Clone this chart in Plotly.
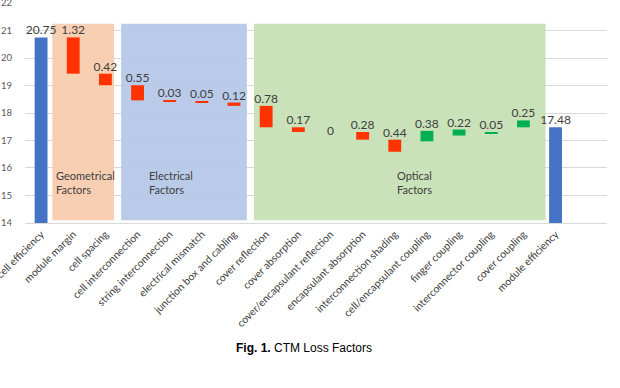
import plotly.graph_objects as go

# ---------------- data ----------------
categories = [
    "cell efficiency", "module margin", "cell spacing", "cell interconnection",
    "string interconnection", "electrical mismatch", "junction box and cabling",
    "cover reflection", "cover absorption", "cover/encapsulant reflection",
    "encapsulant absorption", "interconnection shading", "cell/encapsulant coupling",
    "finger coupling", "interconnector coupling", "cover coupling", "module efficiency",
]
values = [20.75, 1.32, 0.42, 0.55, 0.03, 0.05, 0.12, 0.78, 0.17, 0.0, 0.28, 0.44,
          0.38, 0.22, 0.05, 0.25, 17.48]
kinds = ["total", "loss", "loss", "loss", "loss", "loss", "loss", "loss", "loss",
         "loss", "loss", "loss", "gain", "gain", "gain", "gain", "total"]
# invisible "base" series of the stacked-bar waterfall
base = [0, 19.43, 19.01, 18.46, 18.43, 18.38, 18.26, 17.48, 17.31, 17.31, 17.03,
        16.59, 16.97, 17.18, 17.26, 17.48, 0]

y_ticks = [14, 15, 16, 17, 18, 19, 20, 21, 22]

region_labels = ["Geometrical<br>Factors", "Electrical<br>Factors", "Optical<br>Factors"]
region_spans = [(0.35, 2.27), (2.49, 6.40), (6.62, 15.69)]
region_colors = ["#F8CBAD", "#B4C7E7", "#C5E0B4"]
region_text_x = [0.39, 3.29, 11.0]

caption = "<b>Fig. 1.</b> CTM Loss Factors"

colors = {"total": "#4472C4", "loss": "#FF3300", "gain": "#00B050"}
font_main = "Lato, 'Noto Sans', sans-serif"

fig = go.Figure()

for kind in ["total", "loss", "gain"]:
    idx = [i for i, k in enumerate(kinds) if k == kind]
    fig.add_trace(go.Bar(
        x=[categories[i] for i in idx],
        y=[values[i] for i in idx],
        base=[base[i] for i in idx],
        marker=dict(color=colors[kind], line=dict(width=0)),
        width=0.4,
        showlegend=False,
        hoverinfo="skip",
    ))

tops = [b + v for b, v in zip(base, values)]
fig.add_trace(go.Scatter(
    x=categories,
    y=tops,
    mode="text",
    text=[f"{v:g}" for v in values],
    textposition=["middle center" if v == 0 else "top center" for v in values],
    textfont=dict(family=font_main, size=12, color="#404040"),
    cliponaxis=False,
    showlegend=False,
    hoverinfo="skip",
))

shapes = []
for (x0, x1), c in zip(region_spans, region_colors):
    shapes.append(dict(type="rect", xref="x", yref="y", x0=x0, x1=x1, y0=14.1, y1=21.25,
                       fillcolor=c, line=dict(width=0), layer="between", opacity=0.93))

annotations = []
for lbl, xt in zip(region_labels, region_text_x):
    annotations.append(dict(x=xt, y=15.47, xref="x", yref="y", text=lbl, showarrow=False,
                            xanchor="left", yanchor="middle", align="left",
                            font=dict(family=font_main, size=11, color="#404040")))
annotations.append(dict(x=0.48, y=-0.569, xref="paper", yref="paper", text=caption,
                        showarrow=False, xanchor="center", yanchor="middle",
                        font=dict(family="'Liberation Sans', Arial, sans-serif", size=12,
                                  color="#000000")))

fig.update_layout(
    width=620, height=388,
    margin=dict(l=25, r=13, t=3, b=165),
    paper_bgcolor="white", plot_bgcolor="white",
    barmode="overlay",
    shapes=shapes,
    annotations=annotations,
    xaxis=dict(
        type="category", categoryorder="array", categoryarray=categories,
        range=[-0.5, 17.6], tickangle=-45, showgrid=False, zeroline=False,
        showline=True, linecolor="#D9D9D9", ticks="", automargin=False,
        tickfont=dict(family=font_main, size=10.5, color="#404040"),
    ),
    yaxis=dict(
        range=[13.999, 22.001], tickvals=y_ticks, showgrid=True, gridcolor="#D9D9D9",
        gridwidth=1, zeroline=False, showline=False, ticks="", ticklabelstandoff=12,
        automargin=False, ticklabeloverflow="allow",
        tickfont=dict(family=font_main, size=9.5, color="#595959"),
    ),
)

fig.write_html("out.html")
